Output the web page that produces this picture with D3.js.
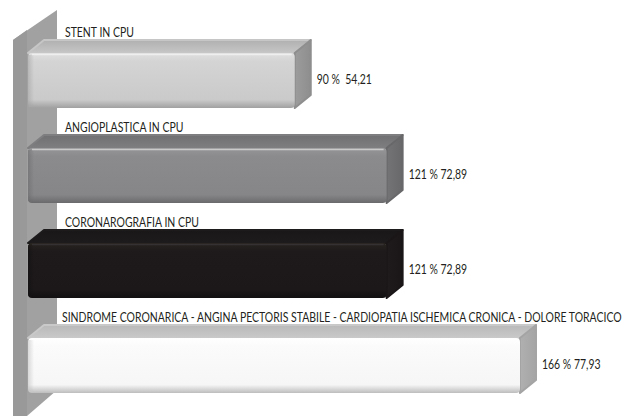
<!DOCTYPE html>
<html><head><meta charset="utf-8">
<script src="https://cdn.jsdelivr.net/npm/d3@7"></script>
<style>html,body{margin:0;padding:0;background:#fff;}svg{display:block;}</style>
</head><body>
<svg id="c" width="633" height="416"></svg>
<script>
const categories = [
  "STENT IN CPU",
  "ANGIOPLASTICA IN CPU",
  "CORONAROGRAFIA IN CPU",
  "SINDROME CORONARICA - ANGINA PECTORIS STABILE - CARDIOPATIA ISCHEMICA CRONICA - DOLORE TORACICO"
];
const percents = [90, 121, 121, 166];
const values = [54.21, 72.89, 72.89, 77.93];
const valueLabels = ["90 %  54,21", "121 % 72,89", "121 % 72,89", "166 % 77,93"];

const palettes = [
  {front:["#e0e0e0","#d4d4d4","#cacaca"], top:["#b0b0b0","#c6c6c6"], side:["#9c9c9c","#8e8e8e"], edge:"#a0a0a0"},
  {front:["#969698","#8b8b8d","#868688"], top:["#707072","#7e7e80"], side:["#747476","#68686b"], edge:"#6a6a6c"},
  {front:["#28241f","#1e1a1b","#1c1819"], top:["#1a1718","#1e1b1c"], side:["#1f1b1c","#1a1617"], edge:"#121011"},
  {front:["#ffffff","#fbfbfb","#f6f6f6"], top:["#b9b9b9","#c9c9c9"], side:["#b0b0b0","#a4a4a4"], edge:"#bdbdbd"}
];

const svg = d3.select("#c");
const defs = svg.append("defs");
const x = d3.scaleLinear().domain([0, 166]).range([28, 520]);
const y = d3.scaleBand().domain(categories).range([33, 413]).paddingInner(0.421).paddingOuter(0.2105);
const dx = 16, dy = 13;

// wall
svg.append("path").attr("d", "M13,40 L57,10 L57,390 L27,416 L13,416 Z").attr("fill", "#a1a1a1");
svg.append("path").attr("d", "M13,40 L27,30 L27,416 L13,416 Z").attr("fill", "#999999");

palettes.forEach((p, i) => {
  const gf = defs.append("linearGradient").attr("id", "gf" + i).attr("x1", 0).attr("y1", 0).attr("x2", 0).attr("y2", 1);
  gf.append("stop").attr("offset", "0").attr("stop-color", p.front[0]);
  gf.append("stop").attr("offset", "0.15").attr("stop-color", p.front[1]);
  gf.append("stop").attr("offset", "0.85").attr("stop-color", p.front[2]);
  gf.append("stop").attr("offset", "1").attr("stop-color", p.edge);
  const gt = defs.append("linearGradient").attr("id", "gt" + i).attr("x1", 0).attr("y1", 0).attr("x2", 0).attr("y2", 1);
  gt.append("stop").attr("offset", "0").attr("stop-color", p.top[0]);
  gt.append("stop").attr("offset", "1").attr("stop-color", p.top[1]);
  const gs = defs.append("linearGradient").attr("id", "gs" + i).attr("x1", 0).attr("y1", 0).attr("x2", 1).attr("y2", 0);
  gs.append("stop").attr("offset", "0").attr("stop-color", p.side[0]);
  gs.append("stop").attr("offset", "1").attr("stop-color", p.side[1]);
  const gl = defs.append("linearGradient").attr("id", "gl" + i).attr("x1", 0).attr("y1", 0).attr("x2", 1).attr("y2", 0);
  gl.append("stop").attr("offset", "0").attr("stop-color", p.edge).attr("stop-opacity", 0.9);
  gl.append("stop").attr("offset", "1").attr("stop-color", p.edge).attr("stop-opacity", 0);
});

const font = "Lato, 'Open Sans', sans-serif";
const fs = 12.5;

const probe = svg.append("text").attr("font-family", font).attr("font-size", fs).text(categories[3]);
const sx = 560 / probe.node().getComputedTextLength();
probe.remove();

categories.forEach((c, i) => {
  const p = palettes[i];
  const x0 = x(0), x1 = x(percents[i]);
  const yT = y(c), yB = yT + y.bandwidth();
  const g = svg.append("g");
  g.append("path")
    .attr("d", `M${x0},${yT} L${x0 + dx},${yT - dy} L${x1 + dx},${yT - dy} L${x1},${yT} Z`)
    .attr("fill", `url(#gt${i})`).attr("stroke", p.top[1]).attr("stroke-width", 2).attr("stroke-linejoin", "round");
  g.append("path")
    .attr("d", `M${x1},${yT} L${x1 + dx},${yT - dy} L${x1 + dx},${yB - dy} L${x1},${yB} Z`)
    .attr("fill", `url(#gs${i})`).attr("stroke", p.side[1]).attr("stroke-width", 2).attr("stroke-linejoin", "round");
  g.append("rect").attr("x", x0).attr("y", yT).attr("width", x1 - x0).attr("height", yB - yT)
    .attr("rx", 4).attr("fill", `url(#gf${i})`);
  g.append("rect").attr("x", x0).attr("y", yT + 2).attr("width", 6).attr("height", yB - yT - 4)
    .attr("fill", `url(#gl${i})`).attr("opacity", 0.6);
  g.append("line").attr("x1", x0 + 4).attr("x2", x1 - 3).attr("y1", yT + 1.5).attr("y2", yT + 1.5)
    .attr("stroke", i === 2 ? "#3a3637" : "#ffffff").attr("stroke-opacity", i === 2 ? 0.8 : 0.5).attr("stroke-width", 1.5);

  svg.append("text").attr("font-family", font).attr("font-size", fs).attr("fill", "#231f20")
    .attr("transform", `translate(${i === 3 ? 62 : 65},${yT - dy - 3}) scale(${sx},1)`)
    .text(c);
  svg.append("text").attr("font-family", font).attr("font-size", fs).attr("fill", "#231f20")
    .attr("transform", `translate(${x1 + dx + 6},${(yT + yB) / 2 - dy / 2 + 10}) scale(${sx},1)`)
    .style("white-space", "pre")
    .text(valueLabels[i]);
});
</script>
</body></html>
